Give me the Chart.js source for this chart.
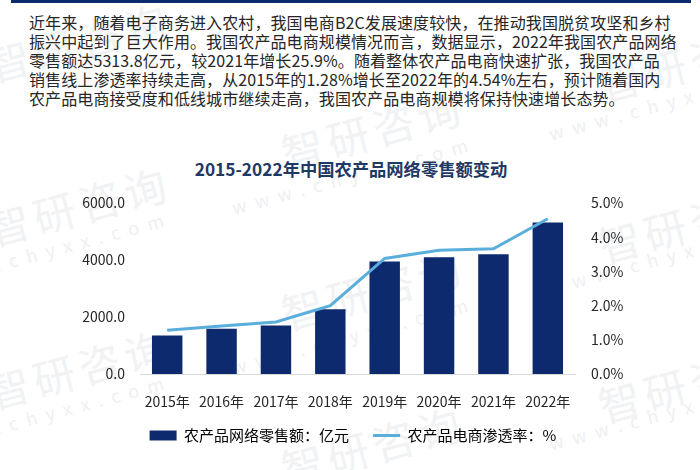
<!DOCTYPE html>
<html lang="zh-CN">
<head>
<meta charset="utf-8">
<script src="https://cdn.jsdelivr.net/npm/chart.js@4"></script>
<style>
  html, body { margin: 0; padding: 0; background: #fff; }
  body { position: relative; width: 700px; height: 470px; overflow: hidden; font-family: "Noto Sans CJK SC", sans-serif; }
  #top-bar { position: absolute; left: 11px; top: 0; width: 680px; height: 3px; background: #0e2a6e; }
  #intro { position: absolute; left: 29px; top: 13px; font-size: 16px; line-height: 19px; color: #262626; white-space: nowrap; letter-spacing: .1px; }
  #title { position: absolute; left: 0; width: 702px; top: 157px; text-align: center; font-size: 17.3px; line-height: 24px; font-weight: 700; color: #1f3864; white-space: nowrap; }
  #chart { position: absolute; left: 0; top: 0; }
  .wm { position: absolute; color: #f0f2f4; font-size: 42px; line-height: 60px; letter-spacing: 5px; white-space: nowrap; transform: rotate(-15deg); transform-origin: left center; }
  .wm2 { position: absolute; color: #eef0f2; font-size: 18px; line-height: 24px; letter-spacing: 9px; white-space: nowrap; transform: rotate(-15deg); transform-origin: left center; }
</style>
</head>
<body>
<div class="wm" style="left:-12px;top:35px">智研咨询</div>
<div class="wm" style="left:-12px;top:199px">智研咨询</div>
<div class="wm" style="left:-12px;top:362px">智研咨询</div>
<div class="wm" style="left:282px;top:123px">智研咨询</div>
<div class="wm" style="left:282px;top:283px">智研咨询</div>
<div class="wm" style="left:282px;top:439px">智研咨询</div>
<div class="wm" style="left:599px;top:55px">智研咨询</div>
<div class="wm" style="left:599px;top:216px">智研咨询</div>
<div class="wm" style="left:599px;top:376px">智研咨询</div>
<div class="wm2" style="left:-72px;top:270px">www.chyxx.com</div>
<div class="wm2" style="left:-72px;top:433px">www.chyxx.com</div>
<div class="wm2" style="left:232px;top:195px">www.chyxx.com</div>
<div class="wm2" style="left:232px;top:355px">www.chyxx.com</div>
<div class="wm2" style="left:549px;top:121px">www.chyxx.com</div>
<div class="wm2" style="left:549px;top:275px">www.chyxx.com</div>
<div class="wm2" style="left:549px;top:431px">www.chyxx.com</div>
<div id="top-bar"></div>
<div id="intro">近年来，随着电子商务进入农村，我国电商B2C发展速度较快，在推动我国脱贫攻坚和乡村<br>振兴中起到了巨大作用。我国农产品电商规模情况而言，数据显示，2022年我国农产品网络<br>零售额达5313.8亿元，较2021年增长25.9%。随着整体农产品电商快速扩张，我国农产品<br>销售线上渗透率持续走高，从2015年的1.28%增长至2022年的4.54%左右，预计随着国内<br>农产品电商接受度和低线城市继续走高，我国农产品电商规模将保持快速增长态势。</div>
<div id="title">2015-2022年中国农产品网络零售额变动</div>
<canvas id="chart" width="700" height="470"></canvas>
<script>
const YEARS = ['2015年', '2016年', '2017年', '2018年', '2019年', '2020年', '2021年', '2022年'];
const SALES = [1350, 1590, 1700, 2270, 3950, 4100, 4200, 5313.8];
const RATE = [1.28, 1.4, 1.52, 2.0, 3.38, 3.62, 3.66, 4.54];

const NAVY = '#0e2a6e';
const SKY = '#5aaedc';
const TICK_FONT = { family: '"Noto Sans CJK SC", sans-serif', size: 14 };

// x labels sit lower than the fitted axis box, so open up their clip area
const unclipXLabels = {
  id: 'unclipXLabels',
  afterLayout(chart) {
    chart.scales.x.bottom += 10;
  }
};

new Chart(document.getElementById('chart'), {
  data: {
    labels: YEARS,
    datasets: [
      {
        type: 'line',
        label: '农产品电商渗透率：%',
        data: RATE,
        yAxisID: 'yRate',
        borderColor: SKY,
        borderWidth: 3,
        pointRadius: 0,
        order: 1
      },
      {
        type: 'bar',
        label: '农产品网络零售额：亿元',
        data: SALES,
        yAxisID: 'ySales',
        backgroundColor: NAVY,
        barPercentage: 0.56,
        categoryPercentage: 1,
        order: 2
      }
    ]
  },
  plugins: [unclipXLabels],
  options: {
    responsive: false,
    animation: false,
    layout: { padding: { top: 203, left: 6, bottom: 17 } },
    plugins: {
      tooltip: { enabled: false },
      legend: {
        position: 'bottom',
        labels: {
          color: '#262626',
          font: { family: TICK_FONT.family, size: 15 },
          usePointStyle: true,
          pointStyleWidth: 27,
          boxHeight: 10,
          padding: 24,
          generateLabels: () => [
            { text: '农产品网络零售额：亿元', fillStyle: NAVY, strokeStyle: NAVY, lineWidth: 0, pointStyle: 'rect', datasetIndex: 1 },
            { text: '农产品电商渗透率：%', fillStyle: SKY, strokeStyle: SKY, lineWidth: 3, pointStyle: 'line', datasetIndex: 0 }
          ]
        }
      }
    },
    scales: {
      x: {
        afterFit: (s) => { s.height = 30; },
        grid: { display: false, drawTicks: false },
        border: { color: '#d9d9d9' },
        ticks: { color: '#262626', font: TICK_FONT, padding: 19, maxRotation: 0, autoSkip: false }
      },
      ySales: {
        position: 'left',
        min: 0,
        max: 6000,
        afterFit: (s) => { s.width = 134; },
        grid: { display: false, drawTicks: false },
        border: { display: false },
        ticks: { stepSize: 2000, color: '#262626', font: TICK_FONT, padding: 15, callback: (v) => v.toFixed(1) }
      },
      yRate: {
        position: 'right',
        min: 0,
        max: 5,
        afterFit: (s) => { s.width = 125; },
        grid: { display: false, drawTicks: false },
        border: { display: false },
        ticks: { stepSize: 1, color: '#262626', font: TICK_FONT, padding: 16, callback: (v) => v.toFixed(1) + '%' }
      }
    }
  }
});
</script>
</body>
</html>
